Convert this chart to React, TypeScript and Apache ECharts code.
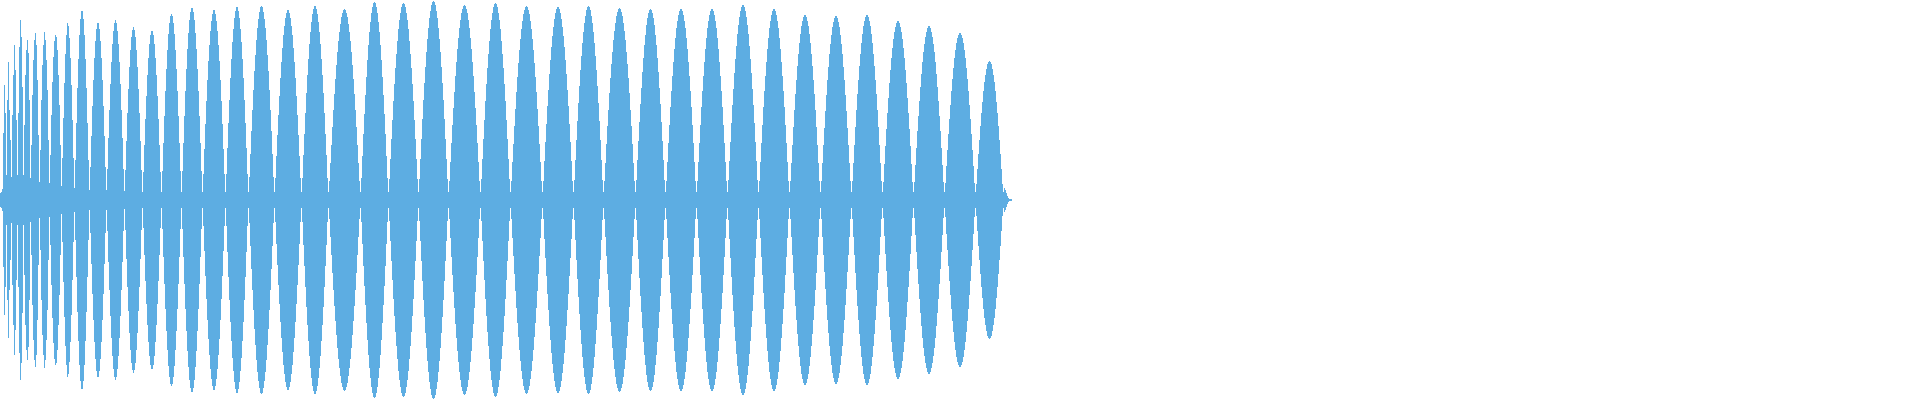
import React, { useEffect, useRef } from "react";
import * as echarts from "echarts";

// Waveform amplitude (half-height, symmetric around 0) per 1px column.
const ampSeg1 = [
  7, 8, 11, 67, 115, 87, 25, 100, 138, 90,
  60, 23, 85, 125, 155, 130, 80, 25, 87, 153,
  180, 163, 113, 25, 75, 125, 150, 160, 147, 100,
  22, 55, 105, 140, 160, 167, 155, 120, 65, 18,
  50, 100, 135, 155, 168, 160, 140, 110, 60, 17,
  45, 85, 118, 143, 159, 165, 163, 150, 125, 95,
  55, 14,
  42, 82, 117, 146, 165, 177, 174, 162, 142, 115, 80, 42, 12,
  40, 77, 112, 141, 165, 181, 189, 189, 181, 165, 141, 112, 77, 40, 10,
  33, 64, 94, 120, 142, 159, 171, 177, 177, 171, 159, 142, 120, 94, 64, 33, 10,
  31, 62, 90, 116, 138, 156, 169, 177, 180, 177, 169, 156, 138, 116, 90, 62, 31, 9,
  30, 59, 87, 111, 133, 150, 163, 170, 173, 170, 163, 150, 133, 111, 87, 59, 30, 8,
  28, 55, 81, 104, 125, 142, 156, 165, 169, 169, 165, 156, 142, 125, 104, 81, 55, 28, 8,
  29, 57, 84, 109, 131, 150, 166, 177, 184, 186, 184, 177, 166, 150, 131, 109, 84, 57, 29, 8,
  29, 57, 84, 109, 131, 151, 167, 180, 188, 192, 192, 188, 180, 167, 151, 131, 109, 84, 57, 29, 8,
  26, 51, 76, 99, 120, 139, 155, 169, 179, 186, 190, 190, 186, 179, 169, 155, 139, 120, 99, 76, 51, 26, 8,
  26, 52, 77, 100, 122, 141, 158, 171, 182, 189, 193, 193, 189, 182, 171, 158, 141, 122, 100, 77, 52, 26, 8,
];

const ampSeg2 = [
  23, 46, 69, 90, 110, 129, 145, 160, 172, 181, 188, 193, 194, 193, 188, 181, 172, 160, 145, 129, 110, 90, 69, 46, 23, 8,
  22, 44, 65, 85, 104, 122, 138, 152, 165, 174, 182, 187, 190, 190, 187, 182, 174, 165, 152, 138, 122, 104, 85, 65, 44, 22, 8,
  22, 45, 66, 87, 107, 125, 141, 156, 168, 178, 186, 191, 194, 194, 191, 186, 178, 168, 156, 141, 125, 107, 87, 66, 45, 22, 8,
  19, 37, 55, 73, 90, 106, 121, 135, 148, 159, 168, 176, 183, 187, 190, 191, 190, 187, 183, 176, 168, 159, 148, 135, 121, 106, 90, 73, 55, 37, 19, 8,
  22, 44, 66, 86, 105, 123, 140, 155, 168, 178, 187, 193, 197, 198, 197, 193, 187, 178, 168, 155, 140, 123, 105, 86, 66, 44, 22, 8,
  21, 41, 61, 80, 99, 116, 132, 146, 159, 171, 180, 187, 193, 196, 197, 196, 193, 187, 180, 171, 159, 146, 132, 116, 99, 80, 61, 41, 21, 8,
  21, 41, 61, 81, 100, 117, 133, 148, 161, 172, 182, 189, 195, 198, 199, 198, 195, 189, 182, 172, 161, 148, 133, 117, 100, 81, 61, 41, 21, 8,
  19, 38, 57, 75, 92, 108, 124, 138, 151, 162, 172, 180, 187, 191, 194, 195, 194, 191, 187, 180, 172, 162, 151, 138, 124, 108, 92, 75, 57, 38, 19, 8,
];

const ampSeg3 = [
  21, 41, 61, 80, 99, 116, 132, 146, 159, 171, 180, 187, 193, 196, 197, 196, 193, 187, 180, 171, 159, 146, 132, 116, 99, 80, 61, 41, 21, 8,
  19, 38, 56, 74, 91, 108, 123, 137, 150, 161, 171, 179, 186, 190, 193, 194, 193, 190, 186, 179, 171, 161, 150, 137, 123, 108, 91, 74, 56, 38, 19, 8,
  19, 39, 58, 76, 94, 110, 126, 140, 153, 164, 173, 181, 187, 191, 193, 193, 191, 187, 181, 173, 164, 153, 140, 126, 110, 94, 76, 58, 39, 19, 8,
  20, 40, 60, 79, 97, 114, 130, 144, 157, 168, 177, 184, 190, 193, 194, 193, 190, 184, 177, 168, 157, 144, 130, 114, 97, 79, 60, 40, 20, 8,
  19, 37, 56, 74, 90, 107, 122, 136, 148, 160, 169, 177, 184, 188, 191, 192, 191, 188, 184, 177, 169, 160, 148, 136, 122, 107, 90, 74, 56, 37, 19, 8,
  20, 40, 59, 78, 96, 112, 128, 142, 155, 165, 175, 182, 187, 190, 191, 190, 187, 182, 175, 165, 155, 142, 128, 112, 96, 78, 59, 40, 20, 8,
  19, 38, 57, 75, 93, 109, 124, 138, 151, 162, 172, 179, 185, 189, 191, 191, 189, 185, 179, 172, 162, 151, 138, 124, 109, 93, 75, 57, 38, 19, 8,
  19, 38, 57, 75, 93, 109, 124, 138, 151, 162, 172, 179, 185, 189, 191, 191, 189, 185, 179, 172, 162, 151, 138, 124, 109, 93, 75, 57, 38, 19, 8,
];

const ampSeg4 = [
  20, 39, 58, 77, 95, 111, 127, 141, 154, 166, 175, 183, 189, 193, 195, 195, 193, 189, 183, 175, 166, 154, 141, 127, 111, 95, 77, 58, 39, 20, 8,
  19, 38, 57, 75, 93, 109, 124, 138, 151, 162, 172, 179, 185, 189, 191, 191, 189, 185, 179, 172, 162, 151, 138, 124, 109, 93, 75, 57, 38, 19, 8,
  19, 37, 55, 73, 90, 106, 120, 134, 146, 157, 166, 174, 179, 183, 185, 185, 183, 179, 174, 166, 157, 146, 134, 120, 106, 90, 73, 55, 37, 19, 8,
  19, 37, 55, 72, 89, 105, 120, 133, 146, 156, 165, 173, 178, 182, 184, 184, 182, 178, 173, 165, 156, 146, 133, 120, 105, 89, 72, 55, 37, 19, 8,
  19, 37, 55, 73, 90, 106, 120, 134, 146, 157, 166, 174, 179, 183, 185, 185, 183, 179, 174, 166, 157, 146, 134, 120, 106, 90, 73, 55, 37, 19, 8,
  18, 36, 54, 71, 87, 102, 117, 130, 142, 152, 161, 168, 173, 177, 179, 179, 177, 173, 168, 161, 152, 142, 130, 117, 102, 87, 71, 54, 36, 18, 8,
  18, 35, 52, 69, 84, 99, 113, 126, 138, 148, 156, 163, 168, 172, 174, 174, 172, 168, 163, 156, 148, 138, 126, 113, 99, 84, 69, 52, 35, 18, 8,
  17, 34, 50, 66, 81, 95, 109, 121, 132, 142, 150, 157, 162, 165, 167, 167, 165, 162, 157, 150, 142, 132, 121, 109, 95, 81, 66, 50, 34, 17, 8,
  16, 31, 46, 60, 74, 87, 98, 109, 118, 125, 131, 136, 138, 139, 138, 136, 131, 125, 118, 109, 98, 87, 74, 60, 46, 31, 16,
  8, 12, 10, 7, 4, 2, 1, 1, 1,
];

const WAVE_COLOR = "#5dade2";

export default function App() {
  const ref = useRef<HTMLDivElement>(null);

  useEffect(() => {
    if (!ref.current) return;
    const chart = echarts.init(ref.current, undefined, { renderer: "svg" });
    const amps = [...ampSeg1, ...ampSeg2, ...ampSeg3, ...ampSeg4];
    const categories = amps.map((_, i) => String(i));
    chart.setOption({
      animation: false,
      grid: { left: 0, top: 0, width: amps.length, height: 400 },
      xAxis: {
        type: "category",
        data: categories,
        show: false,
        boundaryGap: true,
      },
      yAxis: { type: "value", min: -200, max: 200, show: false },
      series: [
        {
          type: "bar",
          data: amps,
          barCategoryGap: "0%",
          barGap: "-100%",
          itemStyle: { color: WAVE_COLOR },
          silent: true,
        },
        {
          type: "bar",
          data: amps.map((v) => -v),
          barCategoryGap: "0%",
          barGap: "-100%",
          itemStyle: { color: WAVE_COLOR },
          silent: true,
        },
      ],
    });
    return () => chart.dispose();
  }, []);

  return (
    <div
      ref={ref}
      style={{ position: "absolute", left: 0, top: 0, width: 1920, height: 400 }}
    />
  );
}
